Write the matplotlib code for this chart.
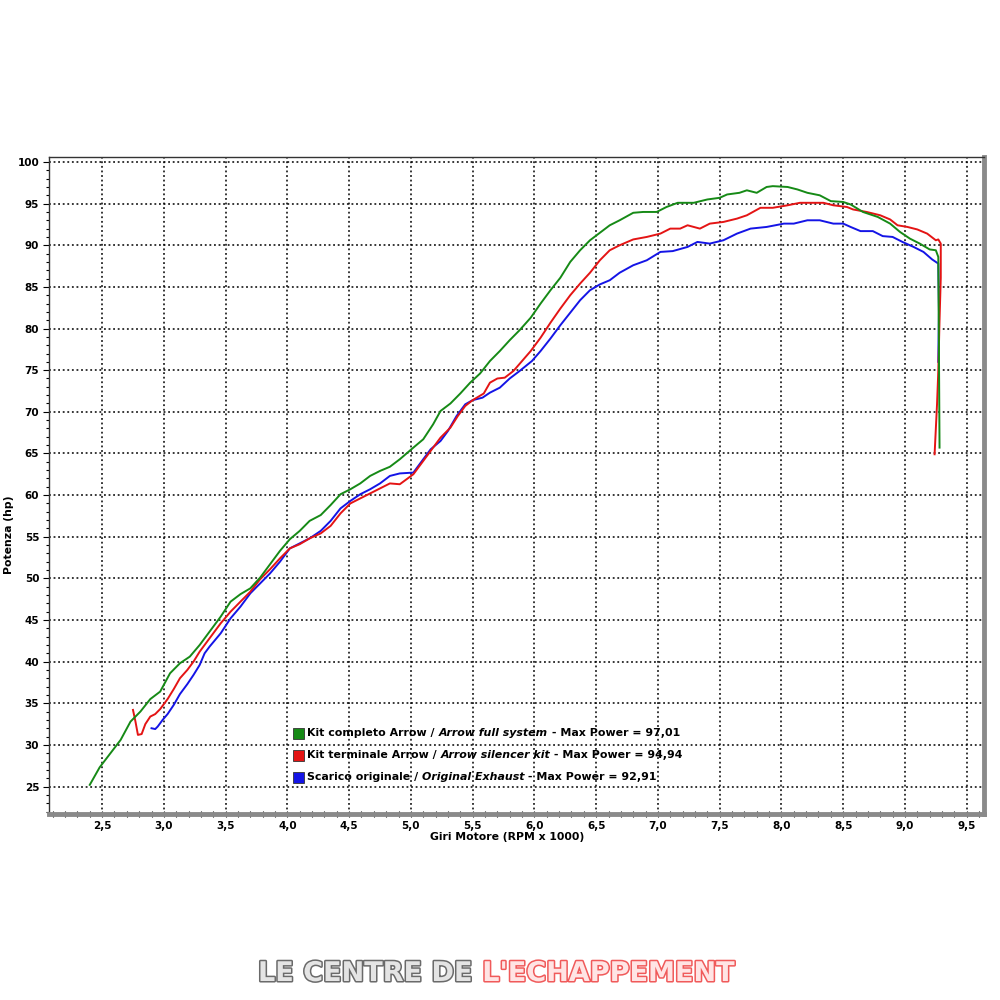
import matplotlib
matplotlib.use('Agg')
import matplotlib.pyplot as plt
from matplotlib.patches import Rectangle
from matplotlib.lines import Line2D
import matplotlib.patheffects as pe
from matplotlib.ticker import MultipleLocator, FuncFormatter

# ---------------- data ----------------
green_rpm = [2.40, 2.48, 2.65, 2.73, 2.81, 2.89, 2.97, 3.05, 3.13, 3.21, 3.29, 3.37, 3.46, 3.54, 3.62,
             3.70, 3.78, 3.86, 3.94, 4.02, 4.10, 4.18, 4.27, 4.35, 4.43, 4.51, 4.59, 4.67, 4.75, 4.83,
             4.91, 5.02, 5.10, 5.18, 5.24, 5.32, 5.40, 5.48, 5.56, 5.64, 5.72, 5.80, 5.88, 5.97, 6.05,
             6.13, 6.21, 6.29, 6.37, 6.45, 6.53, 6.61, 6.69, 6.80, 6.88, 6.99, 7.07, 7.16, 7.29, 7.40,
             7.50, 7.56, 7.66, 7.72, 7.80, 7.88, 7.93, 8.05, 8.13, 8.21, 8.31, 8.40, 8.50, 8.56, 8.66,
             8.78, 8.88, 8.96, 9.04, 9.12, 9.20, 9.25, 9.27, 9.275, 9.28]
green_hp = [25.2, 27.3, 30.6, 32.8, 34.0, 35.5, 36.4, 38.6, 39.8, 40.6, 42.0, 43.6, 45.4, 47.2, 48.1,
            48.8, 50.1, 51.7, 53.3, 54.7, 55.7, 56.9, 57.6, 58.8, 60.1, 60.7, 61.4, 62.3, 62.9, 63.4,
            64.3, 65.7, 66.7, 68.5, 70.1, 71.0, 72.2, 73.5, 74.6, 76.1, 77.3, 78.6, 79.8, 81.3, 83.0,
            84.6, 86.1, 88.0, 89.4, 90.6, 91.5, 92.4, 93.0, 93.9, 94.0, 94.0, 94.6, 95.1, 95.1, 95.5,
            95.7, 96.1, 96.3, 96.6, 96.3, 97.0, 97.1, 97.0, 96.7, 96.3, 96.0, 95.3, 95.2, 94.9, 94.0,
            93.4, 92.6, 91.6, 90.8, 90.2, 89.5, 89.4, 88.6, 78.0, 65.7]

red_rpm = [2.75, 2.77, 2.79, 2.82, 2.85, 2.89, 2.93, 2.97, 3.03, 3.08, 3.13, 3.19, 3.24, 3.29, 3.37,
           3.46, 3.54, 3.62, 3.70, 3.78, 3.86, 3.94, 4.02, 4.10, 4.18, 4.27, 4.35, 4.43, 4.51, 4.59,
           4.67, 4.75, 4.83, 4.91, 5.02, 5.10, 5.18, 5.24, 5.32, 5.38, 5.44, 5.50, 5.59, 5.64, 5.70,
           5.76, 5.83, 5.90, 5.97, 6.05, 6.13, 6.21, 6.29, 6.37, 6.45, 6.53, 6.61, 6.69, 6.80, 6.91,
           7.02, 7.10, 7.18, 7.24, 7.34, 7.42, 7.53, 7.64, 7.72, 7.83, 7.93, 8.05, 8.15, 8.26, 8.34,
           8.42, 8.53, 8.58, 8.69, 8.80, 8.88, 8.94, 9.02, 9.10, 9.18, 9.25, 9.27, 9.29, 9.29, 9.28,
           9.27, 9.26, 9.24]
red_hp = [34.2, 32.8, 31.2, 31.3, 32.5, 33.4, 33.7, 34.3, 35.5, 36.7, 38.0, 39.0, 40.0, 41.2, 42.8,
          44.6, 46.0, 47.2, 48.4, 49.9, 51.1, 52.4, 53.6, 54.1, 54.8, 55.4, 56.3, 57.8, 59.0, 59.6,
          60.2, 60.8, 61.4, 61.3, 62.5, 64.1, 65.7, 66.9, 68.1, 69.5, 70.7, 71.4, 72.2, 73.5, 74.0,
          74.1, 74.9, 76.1, 77.3, 78.9, 80.7, 82.4, 84.0, 85.4, 86.7, 88.2, 89.4, 90.0, 90.7, 91.0,
          91.4, 92.0, 92.0, 92.4, 92.0, 92.6, 92.8, 93.2, 93.6, 94.5, 94.5, 94.8, 95.1, 95.1, 95.1,
          94.8, 94.6, 94.3, 94.0, 93.6, 93.1, 92.4, 92.2, 91.9, 91.4, 90.6, 90.7, 90.2, 86.1, 81.0,
          74.9, 71.0, 64.9]

blue_rpm = [2.90, 2.93, 2.95, 2.99, 3.03, 3.08, 3.13, 3.19, 3.24, 3.29, 3.33, 3.37, 3.46, 3.54, 3.62,
            3.70, 3.78, 3.86, 3.94, 4.02, 4.10, 4.18, 4.27, 4.35, 4.43, 4.51, 4.59, 4.67, 4.75, 4.83,
            4.91, 5.02, 5.07, 5.16, 5.24, 5.30, 5.37, 5.44, 5.50, 5.58, 5.64, 5.72, 5.80, 5.88, 5.98,
            6.05, 6.13, 6.21, 6.29, 6.37, 6.45, 6.53, 6.61, 6.69, 6.80, 6.91, 7.02, 7.12, 7.24, 7.32,
            7.42, 7.53, 7.64, 7.75, 7.88, 8.02, 8.10, 8.21, 8.31, 8.42, 8.50, 8.56, 8.64, 8.74, 8.82,
            8.90, 8.98, 9.07, 9.15, 9.22, 9.27, 9.275, 9.27]
blue_hp = [32.0, 31.9, 32.2, 33.0, 33.7, 34.8, 36.1, 37.3, 38.4, 39.6, 41.0, 41.8, 43.4, 45.2, 46.6,
           48.2, 49.4, 50.6, 52.0, 53.6, 54.2, 54.8, 55.7, 56.9, 58.4, 59.3, 60.1, 60.7, 61.4, 62.3,
           62.6, 62.7, 63.7, 65.5, 66.5, 67.7, 69.5, 70.9, 71.4, 71.7, 72.3, 72.9, 74.0, 74.9, 76.1,
           77.3, 78.8, 80.4, 81.9, 83.4, 84.6, 85.3, 85.8, 86.7, 87.6, 88.2, 89.2, 89.3, 89.8, 90.4,
           90.2, 90.6, 91.4, 92.0, 92.2, 92.6, 92.6, 93.0, 93.0, 92.6, 92.6, 92.2, 91.7, 91.7, 91.1,
           91.0, 90.4, 89.8, 89.2, 88.3, 87.8, 82.0, 76.0]

x_ticks = [2.5, 3.0, 3.5, 4.0, 4.5, 5.0, 5.5, 6.0, 6.5, 7.0, 7.5, 8.0, 8.5, 9.0, 9.5]
y_ticks = [25, 30, 35, 40, 45, 50, 55, 60, 65, 70, 75, 80, 85, 90, 95, 100]

legend_parts = [
    ("Kit completo Arrow / ", "Arrow full system", " - Max Power = 97,01"),
    ("Kit terminale Arrow / ", "Arrow silencer kit", " - Max Power = 94,94"),
    ("Scarico originale / ", "Original Exhaust", " - Max Power = 92,91"),
]
c_green = '#168a16'
c_red = '#e41414'
c_blue = '#1414e6'
series_colors = [c_green, c_red, c_blue]

x_label = "Giri Motore (RPM x 1000)"
y_label = "Potenza (hp)"
brand_a = "LE CENTRE DE "
brand_b = "L'ECHAPPEMENT"

# ---------------- figure ----------------
fig = plt.figure(figsize=(10, 10), dpi=100)
fig.patch.set_facecolor('white')
ax = fig.add_axes([0.049, 0.186, 0.935, 0.657])
ax.set_xlim(2.07, 9.64)
ax.set_ylim(21.7, 100.6)

ax.plot(blue_rpm, blue_hp, color=c_blue, lw=1.4, zorder=3)
ax.plot(red_rpm, red_hp, color=c_red, lw=1.4, zorder=4)
ax.plot(green_rpm, green_hp, color=c_green, lw=1.4, zorder=5)

ax.set_xticks(x_ticks)
ax.set_yticks(y_ticks)
ax.xaxis.set_minor_locator(MultipleLocator(0.1))
ax.yaxis.set_minor_locator(MultipleLocator(1))
ax.xaxis.set_major_formatter(FuncFormatter(lambda v, p: f"{v:.1f}".replace('.', ',')))
ax.yaxis.set_major_formatter(FuncFormatter(lambda v, p: f"{int(round(v))}"))
for lab in ax.get_xticklabels() + ax.get_yticklabels():
    lab.set_fontweight('bold')
ax.tick_params(axis='both', which='major', labelsize=7.5, length=4, width=0.8, direction='out', pad=3)
ax.tick_params(axis='both', which='minor', length=2.5, width=0.8, direction='out')
ax.tick_params(axis='x', which='both', direction='inout', length=4)

ax.grid(True, which='major', color='black', linestyle=(0, (1.2, 1.8)), linewidth=1.1, zorder=1)
ax.set_axisbelow(True)

for side in ['left', 'top']:
    ax.spines[side].set_color('#333333')
    ax.spines[side].set_linewidth(1.0)
for side in ['right', 'bottom']:
    ax.spines[side].set_color('#8a8a8a')
    ax.spines[side].set_linewidth(3.5)

ax.set_xlabel(x_label, fontsize=7.8, fontweight='bold')
ax.set_ylabel(y_label, fontsize=7.8, fontweight='bold')
ax.xaxis.set_label_coords(0.49, -0.028)
ax.yaxis.set_label_coords(-0.037, 0.425)

# ---------------- legend ----------------
fs = 7.9
ys = [0.267, 0.245, 0.223]
for (p0, p1, p2), col, y in zip(legend_parts, series_colors, ys):
    r = Rectangle((0.293, y - 0.0055), 0.011, 0.011, transform=fig.transFigure,
                  facecolor=col, edgecolor='#333333', lw=0.6, zorder=10)
    fig.patches.append(r)
    fig.lines.append(Line2D([0.295, 0.302], [y + 0.004, y - 0.004], transform=fig.transFigure,
                            color='white', lw=0.9, alpha=0.7))
    t0 = fig.text(0.307, y, p0, fontsize=fs, fontweight='bold', va='center', ha='left')
    a1 = ax.annotate(p1, xy=(1, 0), xycoords=t0, va='bottom', ha='left', fontsize=fs,
                     fontweight='bold', fontstyle='italic', annotation_clip=False)
    ax.annotate(p2, xy=(1, 0), xycoords=a1, va='bottom', ha='left', fontsize=fs,
                fontweight='bold', annotation_clip=False)

# ---------------- watermark ----------------
wm_fs = 19.5
b0 = fig.text(0.258, 0.026, brand_a, fontsize=wm_fs, fontweight='bold', color='#e4e4e4',
              va='center', ha='left',
              path_effects=[pe.withStroke(linewidth=2.2, foreground='#6a6a6a')])
ax.annotate(brand_b, xy=(1, 0), xycoords=b0, va='bottom', ha='left', fontsize=wm_fs,
            fontweight='bold', color='#ffe4e4', annotation_clip=False,
            path_effects=[pe.withStroke(linewidth=2.2, foreground='#f05a5a')])

fig.savefig('out.png', dpi=100, facecolor='white')
